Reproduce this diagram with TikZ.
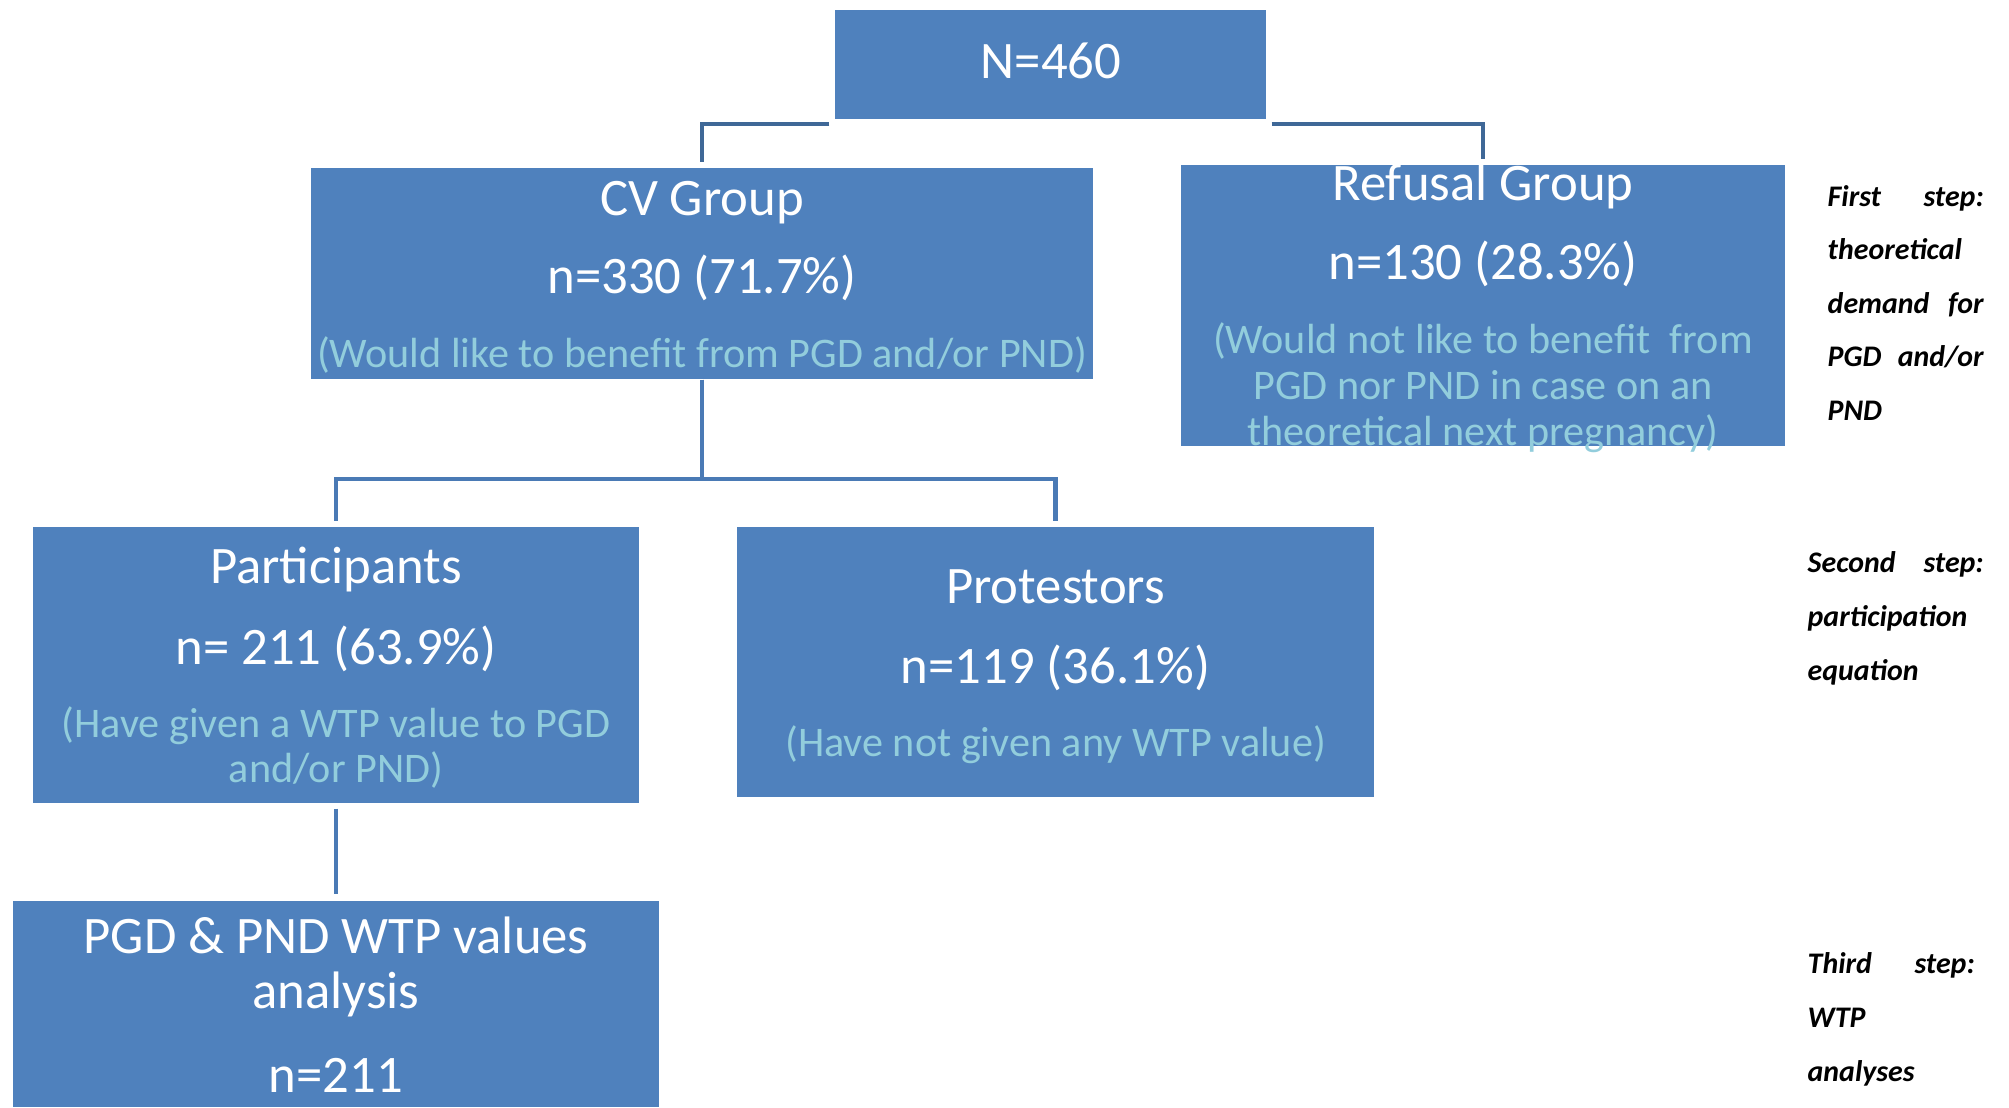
\documentclass[tikz,border=0pt]{standalone}
\usepackage{fontspec}
\setmainfont{Carlito}
\usetikzlibrary{positioning}
\definecolor{boxblue}{HTML}{4F81BD}
\definecolor{linkblue}{HTML}{3F6897}
\definecolor{branchblue}{HTML}{4A7AB5}
\definecolor{noteblue}{HTML}{92CDDC}
\tikzset{
  box/.style={rectangle,fill=boxblue,draw=none,inner sep=0pt},
  link/.style={draw=linkblue,line width=1.2pt},
  branch/.style={draw=branchblue,line width=1.2pt},
  head/.style={font=\fontsize{15}{18}\selectfont,text=white,anchor=base,inner sep=0pt},
  note/.style={font=\fontsize{12}{13}\selectfont,text=noteblue,anchor=base,inner sep=0pt},
  steptext/.style={font=\fontsize{8.5}{10}\selectfont\bfseries\itshape,text=black,anchor=base west,inner sep=0pt}
}
\begin{document}
\begin{tikzpicture}
\useasboundingbox[fill=white] (0,0) rectangle (20.09,-11.07);
\node[box,minimum width=4.31cm,minimum height=1.09cm] (total) at (10.505,-0.645) {};
\node[box,minimum width=7.82cm,minimum height=2.11cm] (cv) at (7.02,-2.735) {};
\node[box,minimum width=6.04cm,minimum height=2.81cm] (refusal) at (14.83,-3.055) {};
\node[box,minimum width=6.06cm,minimum height=2.76cm] (part) at (3.36,-6.65) {};
\node[box,minimum width=6.37cm,minimum height=2.70cm] (prot) at (10.555,-6.62) {};
\node[box,minimum width=6.46cm,minimum height=2.06cm] (wtp) at (3.36,-10.04) {};

\draw[link] ([xshift=-0.05cm,yshift=-0.04cm]total.south west) -| ([yshift=0.05cm]cv.north);
\draw[link] ([xshift=0.05cm,yshift=-0.04cm]total.south east) -| ([yshift=0.05cm]refusal.north);
\draw[branch] (cv.south) -- ++(0,-0.99) -| ([yshift=0.05cm]part.north);
\draw[branch] (cv.south) -- ++(0,-0.99) -| ([yshift=0.05cm]prot.north);
\draw[branch] ([yshift=-0.05cm]part.south) -- ([yshift=0.06cm]wtp.north);

\node[head] (totaln) at (10.51,-0.786) {N=460};

\node[head] (cvhead) at (7.02,-2.156) {CV Group};
\node[head] (cvn) at (7.02,-2.938) {n=330 (71.7\%)};
\node[note] (cvnote) at (7.02,-3.672) {(Would like to benefit from PGD and/or PND)};

\node[head] (refhead) at (14.83,-2.003) {Refusal Group};
\node[head] (refn) at (14.83,-2.797) {n=130 (28.3\%)};
\node[note] (refnotea) at (14.83,-3.531) {(Would not like to benefit\ \ from};
\node[note] (refnoteb) at (14.83,-3.993) {PGD nor PND in case on an};
\node[note] (refnotec) at (14.83,-4.454) {theoretical next pregnancy)};

\node[head] (parthead) at (3.36,-5.834) {Participants};
\node[head] (partn) at (3.36,-6.641) {n= 211 (63.9\%)};
\node[note] (partnotea) at (3.36,-7.375) {(Have given a WTP value to PGD};
\node[note] (partnoteb) at (3.36,-7.824) {and/or PND)};

\node[head] (prothead) at (10.555,-6.039) {Protestors};
\node[head] (protn) at (10.555,-6.833) {n=119 (36.1\%)};
\node[note] (protnote) at (10.555,-7.567) {(Have not given any WTP value)};

\node[head] (wtpheada) at (3.36,-9.537) {PGD \& PND WTP values};
\node[head] (wtpheadb) at (3.36,-10.08) {analysis};
\node[head] (wtpn) at (3.36,-10.92) {n=211};

\node[steptext] (firsta) at (18.27,-2.06) {\makebox[1.56cm][s]{First\hfill step:}};
\node[steptext] (firstb) at (18.27,-2.59) {theoretical};
\node[steptext] (firstc) at (18.27,-3.13) {\makebox[1.56cm][s]{demand\hfill for}};
\node[steptext] (firstd) at (18.27,-3.66) {\makebox[1.56cm][s]{PGD\hfill and/or}};
\node[steptext] (firste) at (18.27,-4.20) {PND};

\node[steptext] (seconda) at (18.07,-5.72) {\makebox[1.76cm][s]{Second\hfill step:}};
\node[steptext] (secondb) at (18.07,-6.26) {participation};
\node[steptext] (secondc) at (18.07,-6.80) {equation};

\node[steptext] (thirda) at (18.07,-9.73) {\makebox[1.67cm][s]{Third\hfill step:}};
\node[steptext] (thirdb) at (18.07,-10.27) {WTP};
\node[steptext] (thirdc) at (18.07,-10.81) {analyses};
\end{tikzpicture}
\end{document}
